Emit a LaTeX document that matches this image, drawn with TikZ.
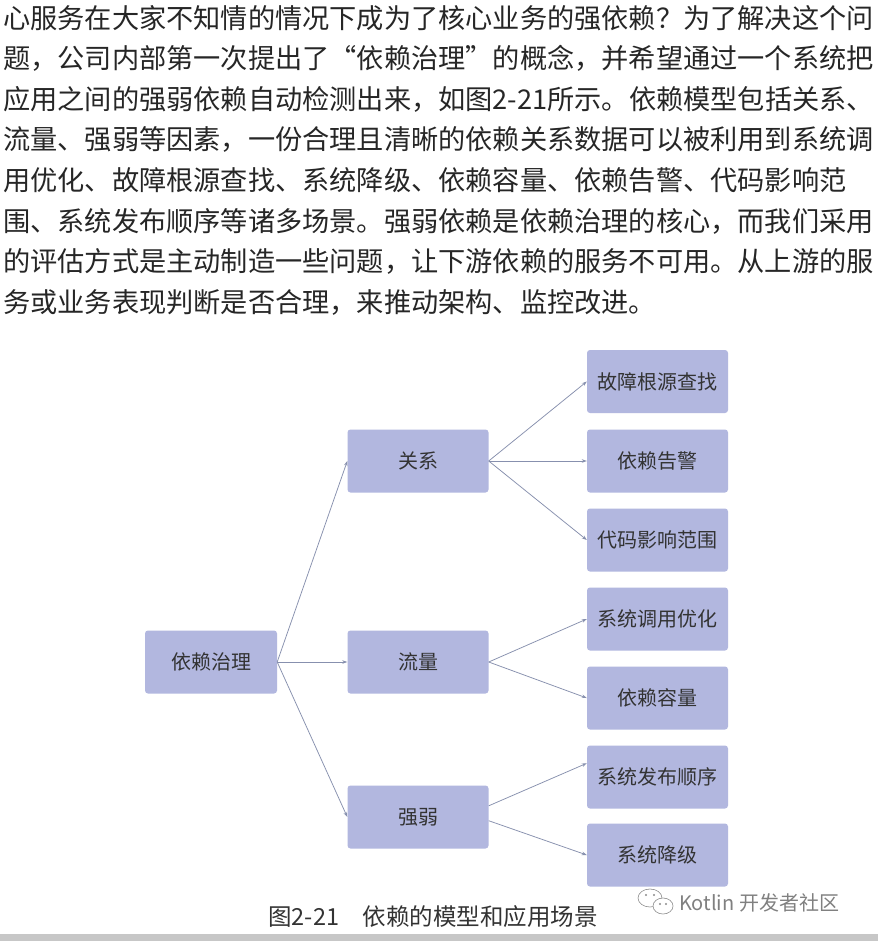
\documentclass[tikz,border=0pt]{standalone}
\usepackage{fontspec}
\usetikzlibrary{arrows.meta}
\newfontfamily\cjk{Noto Sans CJK SC}

\definecolor{boxfill}{HTML}{B2B7DF}
\definecolor{linkgray}{HTML}{8790AE}
\definecolor{inkgray}{HTML}{333333}

\tikzset{
  modelbox/.style={fill=boxfill, rounded corners=3pt, minimum width=141pt,
    minimum height=63pt, inner sep=0pt, text=inkgray,
    font=\cjk\fontsize{20}{22}\selectfont},
  link/.style={draw=linkgray, line width=0.75pt, -{Stealth[length=5pt,width=3.5pt]}},
  bodyline/.style={anchor=west, inner sep=0pt, text=black!85,
    font=\cjk\fontsize{27.2}{30}\selectfont},
}

\begin{document}
\begin{tikzpicture}[x=1pt, y=-1pt]

  % ------------------------------------------------------------- page
  \useasboundingbox (0,0) rectangle (878,941);
  \fill[white] (0,0) rectangle (878,941);
  \fill[black!22] (0,934) rectangle (878,941);

  % --------------------------------------------------- paragraph above
  \foreach \txt [count=\i from 0] in {
      心服务在大家不知情的情况下成为了核心业务的强依赖？为了解决这个问,
      题，公司内部第一次提出了“依赖治理”的概念，并希望通过一个系统把,
      应用之间的强弱依赖自动检测出来，如图2-21所示。依赖模型包括关系、,
      流量、强弱等因素，一份合理且清晰的依赖关系数据可以被利用到系统调,
      用优化、故障根源查找、系统降级、依赖容量、依赖告警、代码影响范,
      围、系统发布顺序等诸多场景。强弱依赖是依赖治理的核心，而我们采用,
      的评估方式是主动制造一些问题，让下游依赖的服务不可用。从上游的服,
      务或业务表现判断是否合理，来推动架构、监控改进。}
    \node[bodyline] (line\i) at (3,18+40.6*\i) {\txt};

  % ------------------------------------------------------------ boxes
  \node[modelbox, minimum width=132pt] (govern) at (211,662) {依赖治理};

  \node[modelbox] (rel)  at (418,461) {关系};
  \node[modelbox] (flow) at (418,662) {流量};
  \node[modelbox] (ruo)  at (418,817) {强弱};

  \node[modelbox] (root)   at (657.5,381.5) {故障根源查找};
  \node[modelbox] (alarm)  at (657.5,461)   {依赖告警};
  \node[modelbox] (code)   at (657.5,540)   {代码影响范围};
  \node[modelbox] (call)   at (657.5,619)   {系统调用优化};
  \node[modelbox] (cap)    at (657.5,698)   {依赖容量};
  \node[modelbox] (pub)    at (657.5,777)   {系统发布顺序};
  \node[modelbox] (degrade) at (657.5,855)  {系统降级};

  % ------------------------------------------------------------ links
  \foreach \b in {rel, flow, ruo}
    \draw[link] (govern.east) -- (\b.west);
  \foreach \b in {root, alarm, code}
    \draw[link] (rel.east) -- (\b.west);
  \foreach \b in {call, cap}
    \draw[link] (flow.east) -- (\b.west);
  \draw[link] (ruo.9) -- (pub.169);
  \draw[link] (ruo.-3) -- (degrade.west);

  % ---------------------------------------------------------- caption
  \node[text=black!80, font=\cjk\fontsize{23.5}{25}\selectfont] (caption)
    at (433,917) {图2-21\quad 依赖的模型和应用场景};

  % -------------------------------------------------------- watermark
  \draw[black!45, line width=0.6pt] (650,898) ellipse (12 and 9);
  \filldraw[fill=white, draw=black!45, line width=0.6pt]
    (663,906) ellipse (10 and 8);
  \foreach \x/\y in {646/895, 654/895, 660/904, 666/904}
    \fill[black!45] (\x,\y) circle (1.1);
  \node[anchor=west, inner sep=0pt, text=black!50,
    font=\cjk\fontsize{20}{22}\selectfont] (mark) at (679,903)
    {Kotlin 开发者社区};

\end{tikzpicture}
\end{document}
